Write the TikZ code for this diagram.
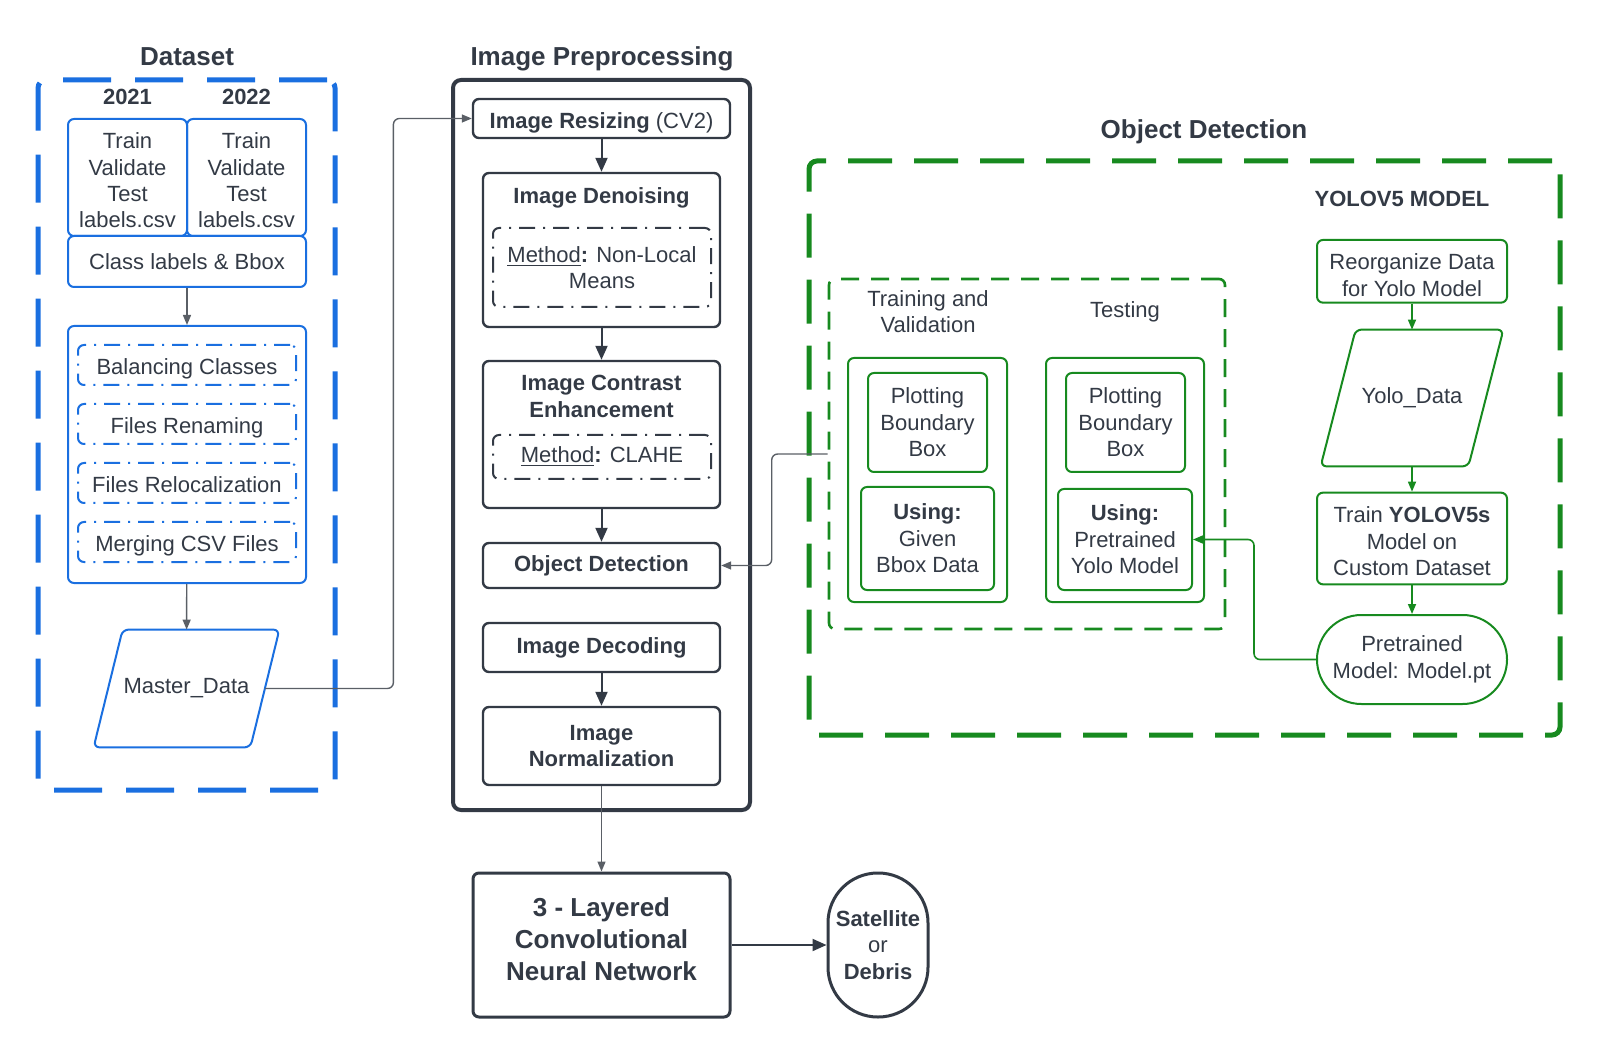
\documentclass[tikz,border=0pt]{standalone}
\usepackage{fontspec}
\setmainfont{Liberation Sans}
\usetikzlibrary{
    arrows.meta, % for the triangle arrow tips
    positioning % for placing nodes relative to other nodes
}
\definecolor{txt}{HTML}{333A45}
\definecolor{dsblue}{HTML}{1A6FE0}
\definecolor{odgreen}{HTML}{178A1F}
\definecolor{wire}{HTML}{5A5F66}

\begin{document}
\begin{tikzpicture}[
    x=0.5pt,y=0.5pt,on grid,>={Triangle[length=5pt,width=4pt]},
    font=\fontsize{11}{13.2}\selectfont,text=txt,
    every node/.style     = {align=center,inner sep=0pt},
    low text/.style       = {text depth=0pt,execute at begin node={\rule{0pt}{10pt}}},
    group title/.style    = {font=\fontsize{13}{15.6}\selectfont\bfseries},
    bold text/.style      = {font=\fontsize{11}{13.2}\selectfont\bfseries},
    blue frame/.style     = {draw=dsblue,line width=2.5pt,rounded corners=4pt,dash pattern=on 24pt off 12pt},
    blue box/.style       = {draw=dsblue,line width=1pt,rounded corners=3pt},
    blue task/.style      = {blue box,low text,dash pattern=on 8pt off 4pt on 1pt off 4pt},
    prep frame/.style     = {draw=txt,line width=2pt,rounded corners=4pt},
    prep box/.style       = {draw=txt,line width=1.2pt,rounded corners=3pt,bold text},
    method box/.style     = {draw=txt,line width=1pt,rounded corners=3pt,dash pattern=on 8pt off 4pt on 1pt off 4pt},
    green frame/.style    = {draw=odgreen,line width=2.5pt,rounded corners=4pt,dash pattern=on 22pt off 11pt},
    green group/.style    = {draw=odgreen,line width=1.3pt,rounded corners=3pt,dash pattern=on 9pt off 6pt},
    green box/.style      = {draw=odgreen,line width=1pt,rounded corners=3pt},
    flow/.style           = {draw=txt,line width=1pt,-{Triangle[length=7pt,width=6pt]}},
    link/.style           = {draw=wire,line width=0.7pt,->,rounded corners=3pt},
    green link/.style     = {draw=odgreen,line width=0.8pt,->,rounded corners=3pt}
]
\useasboundingbox (0,0) rectangle (1600,-1058);

% Dataset (left)

    \node [group title] (dstitle) at (187,-57) {Dataset};
    \node [blue frame,minimum width=148.5pt,minimum height=355pt] (dsframe) at (186.5,-435) {};

    \node [blue box,minimum width=59.5pt,minimum height=58.5pt] (set21) at (127.5,-177.5) {\rule{0pt}{11pt}Train\\Validate\\Test\\labels.csv};
    \node [blue box,minimum width=59.5pt,minimum height=58.5pt] (set22) at (246.5,-177.5) {\rule{0pt}{11pt}Train\\Validate\\Test\\labels.csv};
    \node [bold text] (y21) [above=40.25pt of set21] {2021};
    \node [bold text] (y22) [above=40.25pt of set22] {2022};
    \node [blue box,minimum width=119pt,minimum height=25.5pt] (classes) at (187,-261.5) {Class labels \& Bbox};

    \node [blue box,minimum width=119pt,minimum height=128.5pt] (cleaning) at (187,-454.5) {};
    \node [blue task,minimum width=109pt,minimum height=20pt] (balance) at (187,-365)        {Balancing Classes};
    \node [blue task,minimum width=109pt,minimum height=20pt] (rename)  [below=29.5pt of balance] {Files Renaming};
    \node [blue task,minimum width=109pt,minimum height=20pt] (reloc)   [below=29.5pt of rename]  {Files Relocalization};
    \node [blue task,minimum width=109pt,minimum height=20pt] (merge)   [below=29.5pt of reloc]   {Merging CSV Files};

    \node [minimum width=78pt,minimum height=58.5pt] (master) at (186.5,-688.5) {Master\_Data};
    \draw [blue box] ([xshift=7.25pt]master.north west) -- ([xshift=7.25pt]master.north east)
        -- ([xshift=-7.25pt]master.south east) -- ([xshift=-7.25pt]master.south west) -- cycle;

    \draw [link] (classes) -- (cleaning);
    \draw [link] (cleaning) -- (master);

% Image preprocessing (middle)

    \node [group title] (pptitle) at (602,-59) {Image Preprocessing};
    \node [prep frame,minimum width=148.5pt,minimum height=365pt] (ppframe) at (601.5,-445) {};

    \node [prep box,low text,minimum width=128.5pt,minimum height=19.5pt] (resize) at (601.5,-118.5) {Image Resizing {\mdseries(CV2)}};
    \node [prep box,minimum width=118.5pt,minimum height=77pt]   (denoise)  [below=65.75pt of resize]   {};
    \node [bold text] (denoisetitle) at (601.5,-198) {Image Denoising};
    \node [method box,minimum width=109pt,minimum height=39.5pt] (nlm) at (602,-267.5) {\underline{Method}\textbf{:} Non-Local\\Means};
    \node [prep box,minimum width=118.5pt,minimum height=73.5pt] (contrast) [below=92.25pt of denoise]  {};
    \node [bold text] (contrasttitle) at (601.5,-396.5) {Image Contrast\\Enhancement};
    \node [method box,minimum width=109pt,minimum height=22pt] (clahe) at (602,-457) {\underline{Method}\textbf{:} CLAHE};
    \node [prep box,minimum width=118.5pt,minimum height=22.5pt] (objdet)   [below=65.5pt of contrast]  {Object Detection};
    \node [prep box,minimum width=118.5pt,minimum height=24.5pt] (decoding) [below=41pt of objdet]      {Image Decoding};
    \node [prep box,minimum width=118.5pt,minimum height=39pt]   (normal)   [below=49.25pt of decoding] {Image\\Normalization};

    \node [prep box,line width=1.5pt,font=\fontsize{13}{16}\selectfont\bfseries,low text,text depth=5.7pt,
           minimum width=128.5pt,minimum height=72pt] (cnn) [below=99.5pt of normal] {3 - Layered\\Convolutional\\Neural Network};
    \node [draw=txt,line width=1.5pt,rounded corners=24.9pt,
           minimum width=50pt,minimum height=72pt] (result) [right=138.25pt of cnn] {\textbf{Satellite}\\or\\\textbf{Debris}};

    \draw [link] (master.east) -- ++(128.5,0) |- (resize.west);
    \draw [flow] (resize) -- (denoise);
    \draw [flow] (denoise) -- (contrast);
    \draw [flow] (contrast) -- (objdet);
    \draw [flow] (decoding) -- (normal);
    \draw [link] (normal) -- (cnn);
    \draw [flow] (cnn) -- (result);

% Object detection (right)

    \node [group title] (odtitle) at (1204,-132) {Object Detection};
    \node [green frame,minimum width=375.5pt,minimum height=287pt] (odframe) at (1184.5,-448) {};

    \node [green group,minimum width=198pt,minimum height=175pt] (odgroup) at (1027,-454) {};
    \node (tvtitle)   at (928,-311.5) {Training and\\Validation};
    \node (testtitle) at (1125,-312)  {Testing};

    \node [green box,minimum width=79.5pt,minimum height=122pt]  (tvbox)     at (927.5,-480)   {};
    \node [green box,minimum width=59.5pt,minimum height=49.5pt] (tvplot)    at (927.5,-422.5) {Plotting\\Boundary\\Box};
    \node [green box,minimum width=66.5pt,minimum height=51.5pt] (tvusing)   at (927.5,-538.5) {\textbf{Using:}\\Given\\Bbox Data};
    \node [green box,minimum width=79pt,minimum height=122pt]    (testbox)   at (1125,-480)    {};
    \node [green box,minimum width=59.5pt,minimum height=49.5pt] (testplot)  at (1125.5,-422.5) {Plotting\\Boundary\\Box};
    \node [green box,minimum width=67pt,minimum height=50.5pt]   (testusing) at (1125,-539.5)  {\textbf{Using:}\\Pretrained\\Yolo Model};

    \node [bold text] (yolotitle) at (1402,-199) {YOLOV5 MODEL};
    \node [green box,minimum width=95pt,minimum height=31.35pt] (reorg) at (1412,-271.3) {\rule{0pt}{12pt}Reorganize Data\\for Yolo Model};
    \node [minimum width=73.5pt,minimum height=68pt] (yolodata) [below=63.35pt of reorg] {Yolo\_Data};
    \draw [green box] ([xshift=8.75pt]yolodata.north west) -- ([xshift=8.75pt]yolodata.north east)
        -- ([xshift=-8.75pt]yolodata.south east) -- ([xshift=-8.75pt]yolodata.south west) -- cycle;
    \node [green box,minimum width=95pt,minimum height=45.85pt] (train) [below=70.25pt of yolodata] {\rule{0pt}{11pt}Train \textbf{YOLOV5s}\\Model on\\Custom Dataset};
    \node [green box,rounded corners=22.2pt,minimum width=95pt,minimum height=44.5pt] (pretrained) [below=60.5pt of train] {Pretrained\\Model: Model.pt};

    \draw [green link] (reorg) -- (yolodata);
    \draw [green link] (yolodata) -- (train);
    \draw [green link] (train) -- (pretrained);
    \draw [green link] (pretrained.west) -- ++(-62,0) |- (testusing.east);
    \draw [link] (odgroup.west) -- ++(-56,0) |- (objdet.east);

\end{tikzpicture}
\end{document}
